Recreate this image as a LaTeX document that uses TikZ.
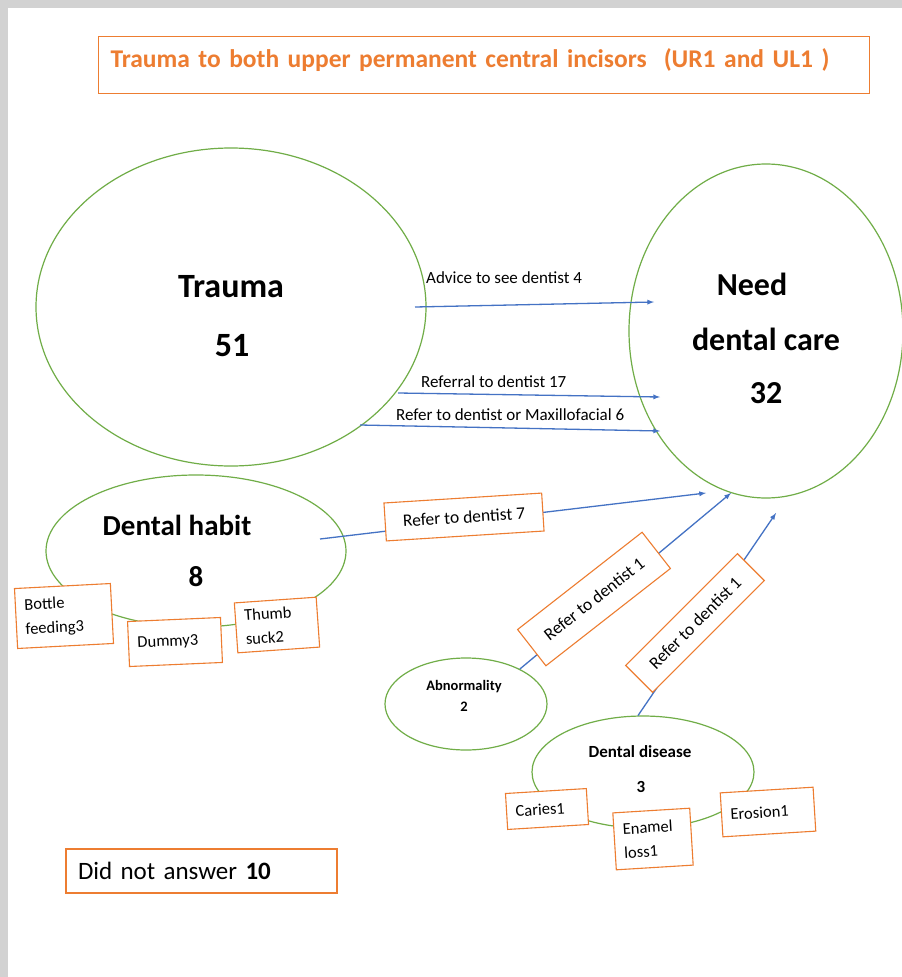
\documentclass[tikz,border=0pt]{standalone}
\usepackage{fontspec}
\setmainfont{Carlito}
\usetikzlibrary{positioning}
\usetikzlibrary{arrows}
\usetikzlibrary{shapes.geometric}

\definecolor{wgreen}{HTML}{70AD47}
\definecolor{worange}{HTML}{ED7D31}
\definecolor{wblue}{HTML}{4472C4}
\newcommand{\fsz}[2]{\fontsize{#1}{#2}\selectfont}

\begin{document}
\begin{tikzpicture}[x=1pt,y=-1pt,
            bubble/.style={draw=wgreen, line width=1.2pt, ellipse, inner sep=0pt},
            tag/.style={draw=worange, line width=1.1pt, fill=white, rectangle, align=left,
            inner xsep=9pt, inner ysep=0pt, font=\fsz{16.5}{24}},
            referbox/.style={draw=worange, line width=1.1pt, fill=white, rectangle,
            inner sep=0pt, font=\fsz{17.5}{21}, minimum width=158pt},
            flow/.style={draw=wblue, line width=1.3pt, -latex},
            big/.style={font=\bfseries\fsz{34}{40}, inner sep=0pt},
            note/.style={font=\fsz{17}{20}, inner sep=0pt, anchor=west}]
        % page
        \fill[gray!35] (0,0) rectangle (902,977);
        \fill[white] (8,8) rectangle (902,977);
        \useasboundingbox (0,0) rectangle (902,977);

        \node[draw=worange, line width=1.1pt, anchor=north west, text width=747pt, align=left,
            inner xsep=12pt, inner ysep=0pt, text height=30.5pt, text depth=26.5pt,
            text=worange, font=\bfseries\fsz{25.5}{30}] (title) at (98,36)
            {Trauma to both upper permanent central incisors \ (UR1 and UL1 )};

        % circles
        \node[bubble, minimum width=390pt, minimum height=318pt] (trauma) at (231,307) {};
        \node[bubble, minimum width=274pt, minimum height=334pt] (need) at (766,331) {};
        \node[bubble, minimum width=300pt, minimum height=152pt] (habit) at (196,551) {};
        \node[bubble, minimum width=162pt, minimum height=92pt] (abnorm) at (466,704) {};
        \node[bubble, minimum width=222pt, minimum height=112pt] (disease) at (643,772) {};

        \node[big] (trauma-t) at (231,287) {Trauma};
        \node[big] (trauma-n) at (232,346) {51};
        \node[big, font=\bfseries\fsz{32}{38}] (need-t) at (752,284) {Need};
        \node[big, font=\bfseries\fsz{32}{38}] (need-c) at (766,339) {dental care};
        \node[big, font=\bfseries\fsz{32}{38}] (need-n) at (766,393) {32};
        \node[big, font=\bfseries\fsz{29}{34}] (habit-t) at (177,525) {Dental habit};
        \node[big, font=\bfseries\fsz{29}{34}] (habit-n) at (196,577) {8};
        \node[big, font=\bfseries\fsz{14.5}{17}] (abnorm-t) at (464,687) {Abnormality};
        \node[big, font=\bfseries\fsz{14.5}{17}] (abnorm-n) at (464,707) {2};
        \node[big, font=\bfseries\fsz{17}{20}] (disease-t) at (640,752) {Dental disease};
        \node[big, font=\bfseries\fsz{17}{20}] (disease-n) at (641,787) {3};

        % connectors
        \coordinate (advice-a) at (415,307);
        \coordinate (advice-b) at (654,302);
        \coordinate (referral-a) at (398,393);
        \coordinate (referral-b) at (660,397);
        \coordinate (maxillo-a) at (360,425);
        \coordinate (maxillo-b) at (660,431);
        \coordinate (habit-a) at (320,539);
        \coordinate (habit-b) at (706,493);
        \coordinate (abnorm-b) at (731,493);
        \coordinate (disease-b) at (776,513);

        \draw[flow] (advice-a) -- (advice-b);
        \draw[flow] (referral-a) -- (referral-b);
        \draw[flow] (maxillo-a) -- (maxillo-b);
        \draw[flow] (habit-a) -- (habit-b);
        \draw[flow] (abnorm.33) -- (abnorm-b);
        \draw[flow] (disease.95) -- (disease-b);

        \node[note] (advice-l) at (426,278) {Advice to see dentist 4};
        \node[note] (referral-l) at (421,382) {Referral to dentist 17};
        \node[note] (maxillo-l) at (396,415) {Refer to dentist or Maxillofacial 6};

        \node[referbox, rotate=3.6, minimum height=38pt] (refer7) at (464,517) {Refer to dentist 7};
        \node[referbox, rotate=38, minimum height=46pt] (refer-abn) at (594,599) {Refer to dentist 1};
        \node[referbox, rotate=45, minimum height=38pt] (refer-dis) at (695,623) {Refer to dentist 1};

        % sub causes
        \node[tag, rotate=3, text width=78pt, minimum height=60pt] (bottle) at (64,616) {Bottle\\feeding3};
        \node[tag, rotate=2.5, text width=75pt, minimum height=45pt] (dummy) at (175,642) {Dummy3};
        \node[tag, rotate=4, text width=64pt, minimum height=50pt] (thumb) at (277,625) {Thumb\\suck2};
        \node[tag, rotate=3.5, text width=63pt, minimum height=36pt] (caries) at (547,809) {Caries1};
        \node[tag, rotate=3.5, text width=59pt, minimum height=57pt] (enamel) at (653,839) {Enamel\\loss1};
        \node[tag, rotate=3.5, text width=75pt, minimum height=44pt] (erosion) at (768,812) {Erosion1};

        \node[draw=worange, line width=1.1pt, text width=247pt, align=left, inner xsep=12pt,
            inner ysep=0pt, minimum height=44pt, font=\fsz{25}{30}] (noanswer) at (201.5,871)
            {Did not answer \textbf{10}};
    \end{tikzpicture}
\end{document}
